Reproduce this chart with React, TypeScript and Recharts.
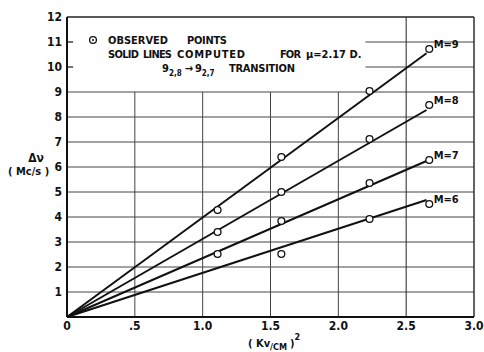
import React from 'react';
import {
  ComposedChart, Scatter, XAxis, YAxis, ReferenceLine, Customized,
} from 'recharts';

const FONT = '"DejaVu Sans Condensed", "Liberation Sans Narrow", "Liberation Sans", sans-serif';

// computed lines (start / end)
const lineX = [0, 2.65];
const lineM9 = [0, 10.55];
const lineM8 = [0, 8.28];
const lineM7 = [0, 6.24];
const lineM6 = [0, 4.68];

// observed points
const obsX = [1.11, 1.58, 2.23, 2.67];
const obsM9 = [4.28, 6.4, 9.04, 10.72];
const obsM8 = [3.4, 5.0, 7.12, 8.48];
const obsM7 = [2.52, 3.84, 5.36, 6.28];
const obsM6 = [null, 2.52, 3.92, 4.52];

const seriesNames = ['M=9', 'M=8', 'M=7', 'M=6'];
const xTicks = [0, 0.5, 1.0, 1.5, 2.0, 2.5, 3.0];
const xTickLabels = ['0', '.5', '1.0', '1.5', '2.0', '2.5', '3.0'];
const yTicks = [1, 2, 3, 4, 5, 6, 7, 8, 9, 10, 11, 12];
const fullRows = [1, 2, 3, 4, 5, 6, 7, 8, 9];
const shortRows = [10, 11];
const shortCols = [0.5, 1.0, 1.5, 2.0];
const tallCols = [2.5, 3.0];

const toPts = (xs: number[], ys: (number | null)[]) =>
  xs.map((x, i) => ({ x, y: ys[i] })).filter((p) => p.y !== null);

const lines = [lineM9, lineM8, lineM7, lineM6].map((ys) => toPts(lineX, ys));
const observed = [obsM9, obsM8, obsM7, obsM6].map((ys) => toPts(obsX, ys));

const GRID = '#444';

function Circle(props: any) {
  const { cx, cy } = props;
  return <circle cx={cx} cy={cy} r={3.4} fill="#fff" stroke="#111" strokeWidth={1.3} />;
}

function Notes() {
  const t = { fontFamily: FONT, fontWeight: 'bold', fontSize: 11, fill: '#111' } as const;
  return (
    <g>
      <circle cx={93} cy={40} r={3.4} fill="none" stroke="#111" strokeWidth={1.3} />
      <circle cx={93} cy={40} r={1} fill="#111" />
      <text {...t} x={108} y={44} textLength={60}>OBSERVED</text>
      <text {...t} x={187} y={44} textLength={40}>POINTS</text>
      <text {...t} x={108} y={58} textLength={31}>SOLID</text>
      <text {...t} x={143} y={58} textLength={29}>LINES</text>
      <text {...t} x={177} y={58} textLength={68}>COMPUTED</text>
      <text {...t} x={280} y={58} textLength={21}>FOR</text>
      <text {...t} x={306} y={58}>μ=2.17 D.</text>
      <text {...t} x={162} y={72}>
        9<tspan fontSize={8} dy={4}>2,8</tspan>
        <tspan dy={-4} dx={3}>→</tspan>
        <tspan dx={2}>9</tspan>
        <tspan fontSize={8} dy={4}>2,7</tspan>
      </text>
      <text {...t} x={229} y={72} textLength={66}>TRANSITION</text>

      <text {...t} fontSize={12} x={36} y={162} textAnchor="middle">Δν</text>
      <text {...t} x={8} y={175}>( Mc/s )</text>

      <text {...t} x={248} y={347}>
        ( Kv<tspan fontSize={9} dy={3}>/CM</tspan>
        <tspan dy={-3} dx={3}>)</tspan>
        <tspan fontSize={9} dy={-7}>2</tspan>
      </text>
    </g>
  );
}

export default function App() {
  return (
    <div style={{ position: 'absolute', left: 0, top: 0, background: '#fff' }}>
      <ComposedChart width={484} height={352} margin={{ top: 17, right: 10, bottom: 5, left: 0 }}>
        <XAxis
          type="number"
          dataKey="x"
          domain={[0, 3]}
          ticks={xTicks}
          tickFormatter={(v: number) => xTickLabels[xTicks.indexOf(v)] ?? String(v)}
          tick={{ fontFamily: FONT, fontWeight: 'bold', fontSize: 12, fill: '#111' }}
          tickLine={false}
          tickSize={0}
          tickMargin={4}
          height={30}
          axisLine={{ stroke: '#111', strokeWidth: 2 }}
        />
        <YAxis
          type="number"
          dataKey="y"
          domain={[0, 12]}
          ticks={yTicks}
          tick={{ fontFamily: FONT, fontWeight: 'bold', fontSize: 12, fill: '#111' }}
          tickLine={false}
          tickSize={0}
          tickMargin={5}
          width={67}
          axisLine={{ stroke: '#111', strokeWidth: 2 }}
        />

        {fullRows.map((y) => (
          <ReferenceLine key={'r' + y} segment={[{ x: 0, y }, { x: 3, y }]} stroke={GRID} strokeWidth={1} />
        ))}
        {shortRows.map((y) => (
          <ReferenceLine key={'s' + y} segment={[{ x: 2.2, y }, { x: 3, y }]} stroke={GRID} strokeWidth={1} />
        ))}
        {shortRows.map((y) => (
          <ReferenceLine key={'t' + y} segment={[{ x: 0, y }, { x: 0.045, y }]} stroke="#111" strokeWidth={1.2} />
        ))}
        <ReferenceLine segment={[{ x: 0, y: 12 }, { x: 3, y: 12 }]} stroke="#222" strokeWidth={1.4} />
        {shortCols.map((x) => (
          <ReferenceLine key={'c' + x} segment={[{ x, y: 0 }, { x, y: 9 }]} stroke={GRID} strokeWidth={1} />
        ))}
        {tallCols.map((x) => (
          <ReferenceLine key={'v' + x} segment={[{ x, y: 0 }, { x, y: 12 }]} stroke="#222" strokeWidth={x === 3 ? 1.4 : 1} />
        ))}

        {lines.map((pts, i) => (
          <Scatter
            key={'l' + i}
            data={pts}
            line={{ stroke: '#111', strokeWidth: 2 }}
            shape={() => <g />}
            isAnimationActive={false}
          />
        ))}
        {observed.map((pts, i) => (
          <Scatter
            key={'o' + i}
            data={pts}
            shape={Circle}
            isAnimationActive={false}
            label={(p: any) =>
              p.index === pts.length - 1 ? (
                <text
                  key={'lab' + i}
                  x={p.x + 9}
                  y={p.y + 4}
                  fontFamily={FONT}
                  fontWeight="bold"
                  fontSize={11}
                  fill="#111"
                >
                  {seriesNames[i]}
                </text>
              ) : null
            }
          />
        ))}
        <Customized component={Notes} />
      </ComposedChart>
    </div>
  );
}
